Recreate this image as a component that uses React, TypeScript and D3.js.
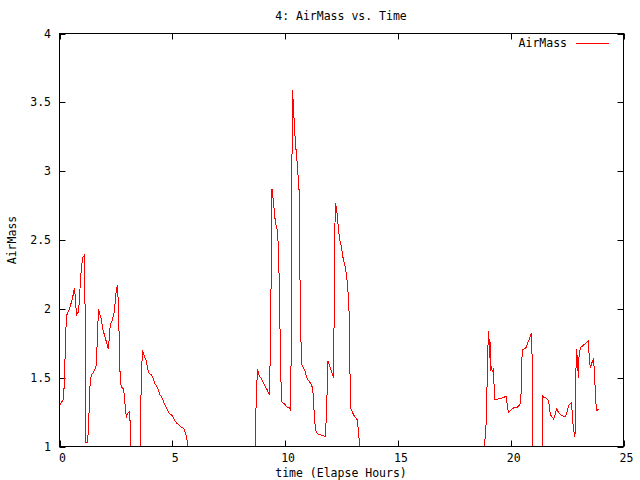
import React from "react";
import * as d3 from "d3";

// Elapsed time (hours) and AirMass samples; 0 marks samples with the target below the horizon
const timeHours: number[] = [
  0.00, 0.13, 0.18, 0.22, 0.27, 0.31, 0.44, 0.53, 0.58, 0.66, 0.71, 0.75, 0.80, 0.84, 0.89, 0.93, 0.98, 1.02, 1.11, 1.15,
  1.17, 1.24, 1.29, 1.33, 1.37, 1.42, 1.51, 1.60, 1.64, 1.68, 1.73, 1.77, 1.86, 1.91, 1.99, 2.08, 2.13, 2.17, 2.22, 2.26,
  2.35, 2.44, 2.48, 2.53, 2.57, 2.62, 2.66, 2.70, 2.75, 2.84, 2.88, 2.93, 2.97, 3.01, 3.10, 3.15, 3.20, 3.55,
  3.59, 3.63, 3.68, 3.72, 3.77, 3.81, 3.86, 3.90, 3.95, 3.99, 4.08, 4.17, 4.21, 4.30, 4.39, 4.43, 4.52, 4.61, 4.65, 4.74,
  4.83, 4.88, 4.96, 5.05, 5.10, 5.19, 5.27, 5.32, 5.41, 5.50, 5.54, 5.63, 5.67, 5.72, 8.60,
  8.69, 8.73, 8.78, 8.82, 8.91, 9.00, 9.04, 9.13, 9.22, 9.26, 9.31, 9.35, 9.40, 9.42, 9.44, 9.49, 9.53, 9.57, 9.66, 9.71,
  9.75, 9.80, 9.84, 9.88, 9.97, 10.11, 10.20, 10.24, 10.28, 10.30, 10.33, 10.37, 10.42, 10.46, 10.51, 10.55, 10.59, 10.62,
  10.64, 10.68, 10.73, 10.82, 10.90, 10.95, 11.04, 11.13, 11.21, 11.26, 11.30, 11.35, 11.39, 11.48, 11.66, 11.79, 11.84,
  11.88, 11.90, 11.97, 12.01, 12.06, 12.15, 12.17, 12.19, 12.23, 12.28, 12.32, 12.37, 12.41, 12.50, 12.54, 12.59, 12.68,
  12.72, 12.77, 12.85, 12.88, 12.90, 12.99, 13.03, 13.12, 13.21, 13.25, 13.30, 13.35, 18.80,
  18.84, 18.93, 18.97, 19.02, 19.06, 19.08, 19.11, 19.15, 19.19, 19.24, 19.28, 19.37, 19.50, 19.59, 19.73, 19.81, 19.86,
  19.90, 19.99, 20.12, 20.26, 20.43, 20.46, 20.48, 20.52, 20.61, 20.70, 20.74, 20.83, 20.88, 20.92, 20.95, 21.00, 21.33,
  21.41, 21.45, 21.59, 21.68, 21.72, 21.76, 21.85, 21.90, 21.99, 22.03, 22.07, 22.16, 22.21, 22.34, 22.43, 22.52, 22.56,
  22.65, 22.70, 22.74, 22.78, 22.83, 22.85, 22.87, 22.92, 22.96, 23.00, 23.02, 23.09, 23.18, 23.32, 23.40, 23.45, 23.47,
  23.49, 23.54, 23.58, 23.63, 23.67, 23.71, 23.76, 23.80, 23.89,
];

const airMass: number[] = [
  1.30, 1.33, 1.35, 1.49, 1.79, 1.95, 2.00, 2.05, 2.08, 2.15, 2.08, 1.95, 1.97, 1.97, 2.08, 2.22, 2.30, 2.37, 2.39, 1.71,
  1.03, 1.03, 1.14, 1.37, 1.49, 1.52, 1.54, 1.57, 1.60, 1.81, 2.00, 1.97, 1.92, 1.86, 1.81, 1.76, 1.73, 1.71, 1.83, 1.89,
  1.92, 1.99, 2.08, 2.15, 2.17, 2.00, 1.65, 1.46, 1.43, 1.42, 1.35, 1.26, 1.21, 1.24, 1.25, 1.13, 0, 0,
  1.17, 1.52, 1.70, 1.68, 1.65, 1.64, 1.61, 1.57, 1.54, 1.53, 1.52, 1.49, 1.46, 1.44, 1.41, 1.38, 1.36, 1.33, 1.31, 1.28,
  1.25, 1.24, 1.23, 1.21, 1.19, 1.17, 1.16, 1.15, 1.14, 1.13, 1.12, 1.07, 1.03, 0, 0,
  1.14, 1.41, 1.56, 1.53, 1.50, 1.48, 1.46, 1.43, 1.41, 1.39, 1.38, 1.76, 2.50, 2.87, 2.84, 2.77, 2.69, 2.63, 2.57, 2.42,
  2.11, 1.60, 1.33, 1.32, 1.31, 1.28, 1.28, 1.26, 1.84, 2.99, 3.59, 3.46, 3.31, 3.20, 3.11, 3.03, 2.93, 2.86,
  2.52, 1.92, 1.60, 1.57, 1.54, 1.50, 1.48, 1.46, 1.43, 1.35, 1.20, 1.13, 1.10, 1.09, 1.08, 1.07, 1.28,
  1.48, 1.62, 1.59, 1.57, 1.54, 1.50, 1.89, 2.45, 2.77, 2.73, 2.66, 2.58, 2.51, 2.45, 2.40, 2.35, 2.30,
  2.24, 2.18, 1.93, 1.49, 1.28, 1.25, 1.23, 1.21, 1.19, 1.10, 1.03, 0, 0,
  1.00, 1.21, 1.64, 1.84, 1.64, 1.78, 1.55, 1.57, 1.54, 1.57, 1.34, 1.34, 1.35, 1.35, 1.36, 1.36, 1.28,
  1.25, 1.26, 1.28, 1.28, 1.31, 1.39, 1.59, 1.70, 1.71, 1.72, 1.75, 1.78, 1.81, 1.82, 1.64, 0, 0,
  1.37, 1.36, 1.35, 1.33, 1.28, 1.23, 1.21, 1.20, 1.24, 1.28, 1.26, 1.24, 1.23, 1.22, 1.22, 1.26, 1.30,
  1.31, 1.32, 1.19, 1.14, 1.08, 1.07, 1.43, 1.71, 1.62, 1.50, 1.64, 1.72, 1.73, 1.75, 1.76, 1.77, 1.68,
  1.62, 1.57, 1.60, 1.62, 1.64, 1.55, 1.36, 1.26, 1.27,
];

const xTicks: number[] = [0, 5, 10, 15, 20, 25];
const yTicks: number[] = [1, 1.5, 2, 2.5, 3, 3.5, 4];
const xTickLabels: string[] = ["0", "5", "10", "15", "20", "25"];
const yTickLabels: string[] = ["1", "1.5", "2", "2.5", "3", "3.5", "4"];

const titleText = "4: AirMass vs. Time";
const xLabelText = "time (Elapse Hours)";
const yLabelText = "AirMass";
const seriesName = "AirMass";

export default function App() {
  const W = 640;
  const H = 480;
  const left = 59.5;
  const right = 623.5;
  const top = 33.5;
  const bottom = 446.5;

  const x = d3.scaleLinear().domain([0, 25]).range([left, right]);
  const y = d3.scaleLinear().domain([1, 4]).range([bottom, top]);

  const pts: [number, number][] = timeHours.map((t, i) => [t, airMass[i]]);
  const line = d3
    .line<[number, number]>()
    .x((d) => x(d[0]))
    .y((d) => y(d[1]));

  const font = "'DejaVu Sans Mono', monospace";
  const fs = 11.5;
  const tickLen = 6;

  return (
    <svg
      width={W}
      height={H}
      style={{ position: "absolute", left: 0, top: 0, background: "#fff" }}
      fontFamily={font}
      fontSize={fs}
    >
      <defs>
        <clipPath id="plotClip">
          <rect x={left} y={top} width={right - left} height={bottom - top} />
        </clipPath>
      </defs>
      <rect x={0} y={0} width={W} height={H} fill="#fff" />

      {/* ticks (inward, mirrored) */}
      {xTicks.map((t) => (
        <g key={"xt" + t}>
          <line x1={Math.round(x(t)) + 0.5} x2={Math.round(x(t)) + 0.5} y1={bottom} y2={bottom - tickLen} stroke="#000" />
          <line x1={Math.round(x(t)) + 0.5} x2={Math.round(x(t)) + 0.5} y1={top} y2={top + tickLen} stroke="#000" />
        </g>
      ))}
      {yTicks.map((v) => (
        <g key={"yt" + v}>
          <line x1={left} x2={left + tickLen} y1={Math.round(y(v)) + 0.5} y2={Math.round(y(v)) + 0.5} stroke="#000" />
          <line x1={right} x2={right - tickLen} y1={Math.round(y(v)) + 0.5} y2={Math.round(y(v)) + 0.5} stroke="#000" />
        </g>
      ))}

      {/* tick labels */}
      {xTicks.map((t, i) => (
        <text key={"xl" + t} x={x(t) + 3} y={462} textAnchor="middle">
          {xTickLabels[i]}
        </text>
      ))}
      {yTicks.map((v, i) => (
        <text key={"yl" + v} x={51} y={y(v) + 4} textAnchor="end">
          {yTickLabels[i]}
        </text>
      ))}

      {/* data line */}
      <path
        d={line(pts) || ""}
        fill="none"
        stroke="#ff0000"
        strokeWidth={1}
        shapeRendering="crispEdges"
        clipPath="url(#plotClip)"
      />

      {/* border */}
      <rect x={left} y={top} width={right - left} height={bottom - top} fill="none" stroke="#000" />

      {/* legend */}
      <text x={567} y={47} textAnchor="end">
        {seriesName}
      </text>
      <line x1={576} x2={609} y1={43.5} y2={43.5} stroke="#ff0000" />

      {/* titles */}
      <text x={341} y={20} textAnchor="middle">
        {titleText}
      </text>
      <text x={341} y={477} textAnchor="middle">
        {xLabelText}
      </text>
      <text transform={`translate(16,240) rotate(-90)`} textAnchor="middle">
        {yLabelText}
      </text>
    </svg>
  );
}
